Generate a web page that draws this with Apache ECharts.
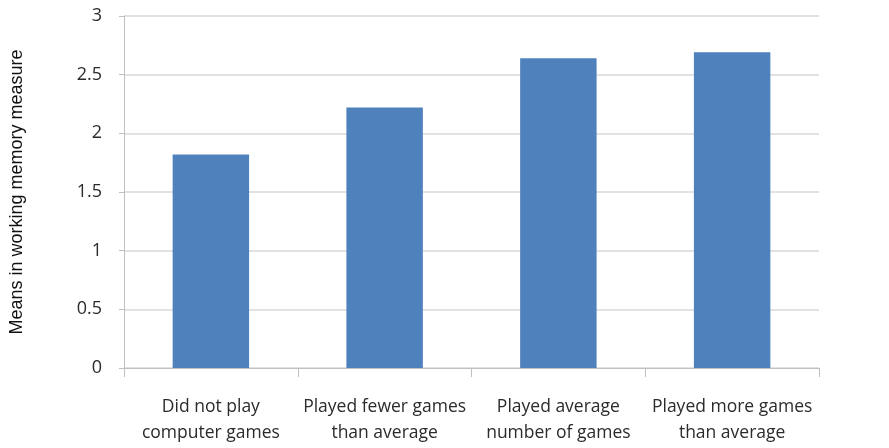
<!DOCTYPE html>
<html>
<head>
<meta charset="utf-8">
<script src="https://cdn.jsdelivr.net/npm/echarts@6/dist/echarts.min.js"></script>
<style>
html, body { margin: 0; padding: 0; background: #fff; }
#main { width: 889px; height: 448px; }
</style>
</head>
<body>
<div id="main"></div>
<script>
var categories = [
	'Did not play\ncomputer games',
	'Played fewer games\nthan average',
	'Played average\nnumber of games',
	'Played more games\nthan average'
];
var means = [1.82, 2.22, 2.64, 2.69];
var yTicks = [0, 0.5, 1, 1.5, 2, 2.5, 3];

var chart = echarts.init(document.getElementById('main'));
chart.setOption({
	animation: false,
	grid: { left: 123, right: 70, top: 16, bottom: 80 },
	xAxis: {
		type: 'category',
		data: categories,
		axisLine: { lineStyle: { color: '#bfbfbf' } },
		axisTick: { show: true, length: 9, lineStyle: { color: '#bfbfbf' } },
		axisLabel: {
			interval: 0,
			margin: 26,
			color: '#2b2b2b',
			fontFamily: 'Open Sans',
			fontSize: 17.5,
			lineHeight: 26
		}
	},
	yAxis: {
		type: 'value',
		min: yTicks[0],
		max: yTicks[yTicks.length - 1],
		interval: 0.5,
		name: 'Means in working memory measure',
		nameLocation: 'middle',
		nameGap: 98,
		nameTextStyle: { fontFamily: 'Liberation Sans', fontSize: 18, color: '#111' },
		axisLine: { show: true, lineStyle: { color: '#bfbfbf' } },
		axisTick: { show: true, length: 5, lineStyle: { color: '#bfbfbf' } },
		splitLine: { lineStyle: { color: '#d9d9d9', width: 1.5 } },
		axisLabel: {
			margin: 22,
			color: '#2b2b2b',
			fontFamily: 'Open Sans',
			fontSize: 18
		}
	},
	series: [{
		type: 'bar',
		data: means,
		barWidth: '44%',
		itemStyle: { color: '#4f81bd' }
	}]
});
</script>
</body>
</html>
